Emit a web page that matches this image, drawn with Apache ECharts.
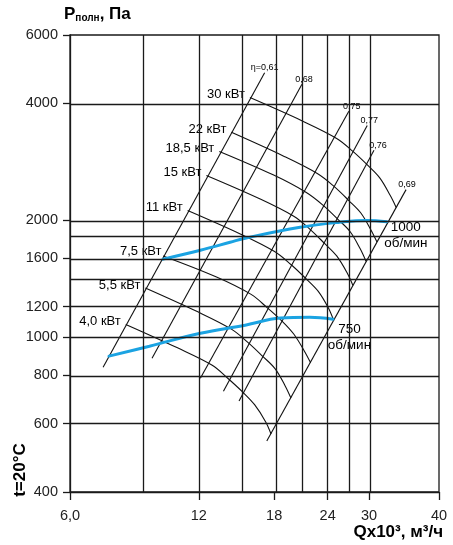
<!DOCTYPE html>
<html>
<head>
<meta charset="utf-8">
<script src="https://cdn.jsdelivr.net/npm/echarts@6/dist/echarts.min.js"></script>
<style>
html, body { margin: 0; padding: 0; background: #fff; }
#chart { width: 453px; height: 545px; }
</style>
</head>
<body>
<div id="chart"></div>
<script>
// оси: Q x10^3 м3/ч (лог), P Па (лог)
var xGrid = [9, 12, 15, 18, 21, 24, 27, 30];
var xTicks = [6, 12, 18, 24, 30];
var xTickText = ['6,0', '12', '18', '24', '30'];
var xEnd = 43.7, xEndText = '40';
var yGrid = [600, 800, 1000, 1200, 1400, 1600, 1800, 2000, 4000];
var yTicks = [400, 600, 800, 1000, 1200, 1600, 2000, 4000, 6000];

// кривые мощности [Q, P]
var kw30 = [[15.8,4140],[21.0,3600],[25.2,3250],[27.5,3010],[29.8,2770],[31.8,2570],[33.6,2320],[34.7,2160]];
var kw22 = [[14.3,3370],[18.9,2930],[22.7,2640],[24.8,2450],[26.9,2250],[28.7,2090],[30.3,1890],[31.3,1760]];
var kw185 = [[13.4,3010],[17.9,2620],[21.4,2360],[23.4,2190],[25.4,2010],[27.1,1870],[28.6,1690],[29.5,1570]];
var kw15 = [[12.5,2610],[16.7,2270],[20.0,2050],[21.8,1900],[23.6,1745],[25.2,1620],[26.7,1460],[27.5,1360]];
var kw11 = [[11.3,2120],[15.0,1845],[18.0,1665],[19.7,1540],[21.3,1420],[22.8,1315],[24.1,1190],[24.8,1105]];
var kw75 = [[9.9,1620],[13.2,1430],[15.9,1290],[17.3,1195],[18.8,1100],[20.0,1020],[21.2,920],[21.9,860]];
var kw55 = [[9.0,1340],[11.9,1165],[14.3,1050],[15.6,972],[16.9,895],[18.1,830],[19.1,750],[19.7,698]];
var kw40 = [[8.1,1080],[10.7,940],[12.9,848],[14.0,786],[15.2,723],[16.2,671],[17.2,606],[17.7,564]];
var powerCurves = [kw30, kw22, kw185, kw15, kw11, kw75, kw55, kw40];
var powerText = ['30 кВт', '22 кВт', '18,5 кВт', '15 кВт', '11 кВт', '7,5 кВт', '5,5 кВт', '4,0 кВт'];

// линии КПД (низ, верх)
var eta61 = [[7.17,838],[17.1,4800]];
var eta68 = [[9.33,884],[20.9,4480]];
var eta75 = [[12.1,785],[26.9,3820]];
var eta77 = [[13.7,727],[29.7,3510]];
var eta76 = [[14.9,686],[30.8,3030]];
var eta69 = [[17.3,541],[36.6,2400]];
var etaLines = [eta61, eta68, eta75, eta77, eta76, eta69];
var etaText = ['η=0,61', '0,68', '0,75', '0,77', '0,76', '0,69'];

// характеристики по оборотам
var rpm1000 = [[9.9,1590],[12.1,1676],[14.2,1757],[15.4,1800],[20.7,1920],[25.6,1978],[29.6,2000],[33.0,1985]];
var rpm750 = [[7.4,895],[9.2,949],[12.1,1025],[15.4,1075],[18.6,1121],[21.8,1127],[24.7,1114]];
var rpmText = ['1000\nоб/мин', '750\nоб/мин'];

var L = Math.log10;
function pt(p) { return [L(p[0]), L(p[1])]; }
function curve(a) { return a.map(pt); }

var ink = '#000';
var font = 'Liberation Sans';
var xLabelPos = xTicks.map(L).concat([L(xEnd)]);
var xLabelText = xTickText.concat([xEndText]);

var series = [];
// сетка
series.push({
	type: 'line', data: [], silent: true,
	markLine: {
		silent: true, symbol: ['none', 'none'], animation: false,
		label: { show: false },
		lineStyle: { color: '#1a1a1a', width: 1.3, type: 'solid' },
		data: xGrid.map(function (v) { return { xAxis: L(v) }; })
			.concat(yGrid.map(function (v) { return { yAxis: L(v) }; }))
	}
});
etaLines.forEach(function (l) {
	series.push({ type: 'line', data: curve(l), symbol: 'none', silent: true,
		lineStyle: { color: '#111', width: 1.1 } });
});
powerCurves.forEach(function (c) {
	series.push({ type: 'line', data: curve(c), symbol: 'none', smooth: 0.35, silent: true,
		lineStyle: { color: '#111', width: 1.1 } });
});

// подписи
var etaDx = [0, 2, 3, 2, 4, 1];
var labelData = [];
etaLines.forEach(function (l, i) {
	labelData.push({ value: pt(l[l.length - 1]), label: {
		show: true, position: 'inside', offset: [etaDx[i], -5], formatter: etaText[i],
		fontSize: 9, color: ink, opacity: 1, backgroundColor: '#fff', padding: [0, 1] } });
});
powerCurves.forEach(function (c, i) {
	var is75 = i === 5;
	labelData.push({ value: pt(c[0]), label: {
		show: true, position: 'left', distance: is75 ? 1 : 4.5, offset: [0, is75 ? -5 : -3],
		formatter: powerText[i], fontSize: 13, color: ink, opacity: 1,
		textBorderColor: '#fff', textBorderWidth: 1.5 } });
});
[[rpm1000, [19, 13.5]], [rpm750, [16.5, 18]]].forEach(function (r, i) {
	var c = r[0];
	labelData.push({ value: pt(c[c.length - 1]), label: {
		show: true, position: 'inside', offset: r[1], formatter: rpmText[i], opacity: 1,
		fontSize: 13.5, lineHeight: 15.5, color: ink, align: 'center', backgroundColor: '#fff' } });
});
series.push({ type: 'scatter', data: labelData, symbol: 'circle', symbolSize: 1, silent: true,
	itemStyle: { color: '#fff', opacity: 1 } });

[rpm1000, rpm750].forEach(function (c) {
	series.push({ type: 'line', data: curve(c), symbol: 'none', smooth: 0.4, z: 3, silent: true,
		lineStyle: { color: '#1ba3e2', width: 3, cap: 'round' } });
});

var chart = echarts.init(document.getElementById('chart'));
chart.setOption({
	animation: false,
	textStyle: { fontFamily: font },
	title: [
		{ text: '{a|P}{b|полн}{a|, Па}', left: 64, top: 6, padding: 0,
			textStyle: { rich: {
				a: { fontFamily: font, fontSize: 17, fontWeight: 'bold', color: ink },
				b: { fontFamily: font, fontSize: 10, fontWeight: 'bold', color: ink, verticalAlign: 'bottom', padding: [6, 0, 0, 0] }
			} } },
		{ text: 'Qx10³, м³/ч', right: 10, bottom: 4, padding: 0,
			textStyle: { fontFamily: font, fontSize: 17, fontWeight: 'bold', color: ink } }
	],
	graphic: [{
		type: 'text', x: 20, y: 470, rotation: Math.PI / 2,
		style: { text: 't=20°C', font: 'bold 17px "Liberation Sans"', fill: ink,
			textAlign: 'center', textVerticalAlign: 'middle', align: 'center', verticalAlign: 'middle' }
	}],
	grid: { left: 70, right: 14, top: 35, bottom: 53, show: true, borderColor: '#1a1a1a', borderWidth: 1.3 },
	xAxis: {
		type: 'value', min: L(6), max: L(xEnd),
		axisLine: { lineStyle: { color: '#1a1a1a', width: 1.3 } },
		axisTick: { show: true, length: 8, customValues: xLabelPos, lineStyle: { color: '#1a1a1a', width: 1.3 } },
		axisLabel: { customValues: xLabelPos, margin: 16, fontSize: 14.5, color: '#222', fontFamily: font,
			formatter: function (v) {
				for (var i = 0; i < xLabelPos.length; i++) if (Math.abs(xLabelPos[i] - v) < 1e-6) return xLabelText[i];
				return '';
			} },
		splitLine: { show: false }
	},
	yAxis: {
		type: 'value', min: L(400), max: L(6000),
		axisLine: { show: true, lineStyle: { color: '#1a1a1a', width: 1.3 } },
		axisTick: { show: true, length: 7, customValues: yTicks.map(L), lineStyle: { color: '#1a1a1a', width: 1.3 } },
		axisLabel: { customValues: yTicks.map(L), margin: 12, fontSize: 14.5, color: '#222', fontFamily: font,
			formatter: function (v) { return String(Math.round(Math.pow(10, v))); } },
		splitLine: { show: false }
	},
	series: series
});
window.onresize = function () { chart.resize(); };
</script>
</body>
</html>
